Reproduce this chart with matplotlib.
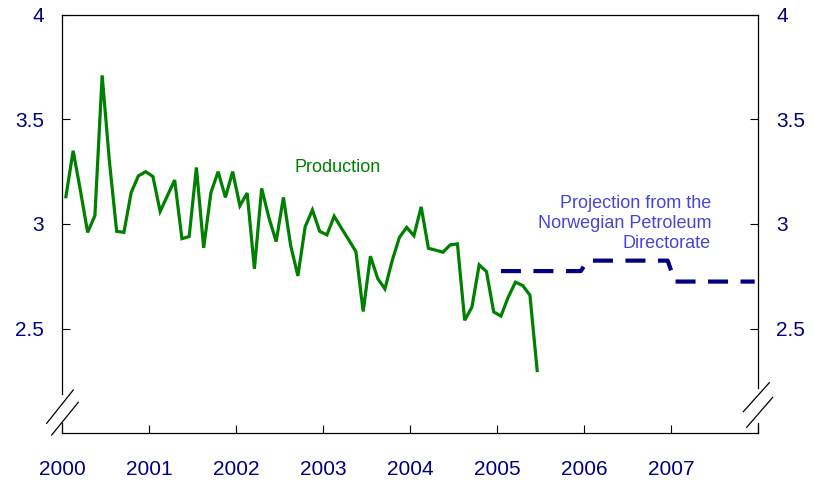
import numpy as np
import matplotlib
matplotlib.use("Agg")
import matplotlib.pyplot as plt

plt.rcParams['font.family'] = ['Liberation Sans', 'DejaVu Sans']

# monthly production, Jan 2000 - Jun 2005
prod_start_year = 2000
production = [
    3.13, 3.35, 3.16, 2.96, 3.04, 3.71, 3.30, 2.965, 2.96, 3.15, 3.23, 3.25,   # 2000
    3.227, 3.06, 3.135, 3.21, 2.93, 2.94, 3.27, 2.886, 3.15, 3.25, 3.127, 3.25,  # 2001
    3.087, 3.148, 2.786, 3.17, 3.03, 2.916, 3.127, 2.897, 2.752, 2.987, 3.067, 2.965,  # 2002
    2.948, 3.037, 2.98, 2.925, 2.868, 2.582, 2.846, 2.74, 2.69, 2.825, 2.936, 2.984,  # 2003
    2.944, 3.082, 2.884, 2.875, 2.865, 2.90, 2.905, 2.54, 2.603, 2.805, 2.773, 2.58,  # 2004
    2.56, 2.65, 2.722, 2.706, 2.66, 2.30,  # 2005
]

# projection, one level per year
proj_years = [2005, 2006, 2007]
proj_values = [2.775, 2.825, 2.725]

year_ticks = [2000, 2001, 2002, 2003, 2004, 2005, 2006, 2007, 2008]
year_labels = ['2000', '2001', '2002', '2003', '2004', '2005', '2006', '2007', '']
y_ticks = [2.5, 3, 3.5, 4]
y_labels = ['2.5', '3', '3.5', '4']

navy = '#000080'
green = '#008000'

# x positions at mid month
prod_x = prod_start_year + (np.arange(len(production)) + 0.5) / 12
proj_monthly = np.repeat(proj_values, 12)
proj_x = proj_years[0] + (np.arange(len(proj_monthly)) + 0.5) / 12

fig = plt.figure(figsize=(8.14, 4.86), dpi=100)
ax = fig.add_axes([0.0765, 0.1084, 0.8551, 0.8614])

ax.plot(prod_x, production, color=green, lw=2.3, solid_joinstyle='miter')
ax.plot(proj_x, proj_monthly, color=navy, lw=3, dashes=(4.8, 3.0), dash_capstyle='butt')

ax.text(2003.17, 3.272, 'Production', color=green, fontsize=13, ha='center', va='center')
ax.text(2007.457, 3.002, 'Projection from the\nNorwegian Petroleum\nDirectorate',
        color='#4646D6', fontsize=13, ha='right', va='center', multialignment='right')

ax.set_xlim(2000, 2008)
ax.set_ylim(2.0, 4.0)
ax.set_xticks(year_ticks)
ax.set_xticklabels(year_labels)
ax.set_yticks(y_ticks)
ax.set_yticklabels(y_labels)

ax.tick_params(axis='x', direction='in', length=5.5, width=0.8, pad=19.4,
               labelsize=15, labelcolor=navy, top=False)
ax.tick_params(axis='y', direction='in', length=5.5, width=0.8, pad=13,
               labelsize=15, labelcolor=navy, left=True, right=True,
               labelleft=True, labelright=True)

# spines: keep top/bottom, draw broken left/right ones by hand
for side in ['top', 'bottom']:
    ax.spines[side].set_linewidth(0.9)
ax.spines['left'].set_visible(False)
ax.spines['right'].set_visible(False)
kw = dict(transform=ax.transAxes, color='black', lw=0.9, clip_on=False)
ax.plot([0, 0], [0.095, 1], **kw)
ax.plot([0, 0], [0, 0.025], **kw)
ax.plot([1, 1], [0.108, 1], **kw)
ax.plot([1, 1], [0, 0.025], **kw)

# break marks
ax.plot([-0.0224, 0.0158], [0.0239, 0.1035], **kw)
ax.plot([-0.0152, 0.0230], [-0.0041, 0.0741], **kw)
ax.plot([0.9784, 1.0158], [0.0516, 0.1209], **kw)
ax.plot([0.9833, 1.0207], [0.0143, 0.0860], **kw)

fig.savefig('out.png', dpi=100)
